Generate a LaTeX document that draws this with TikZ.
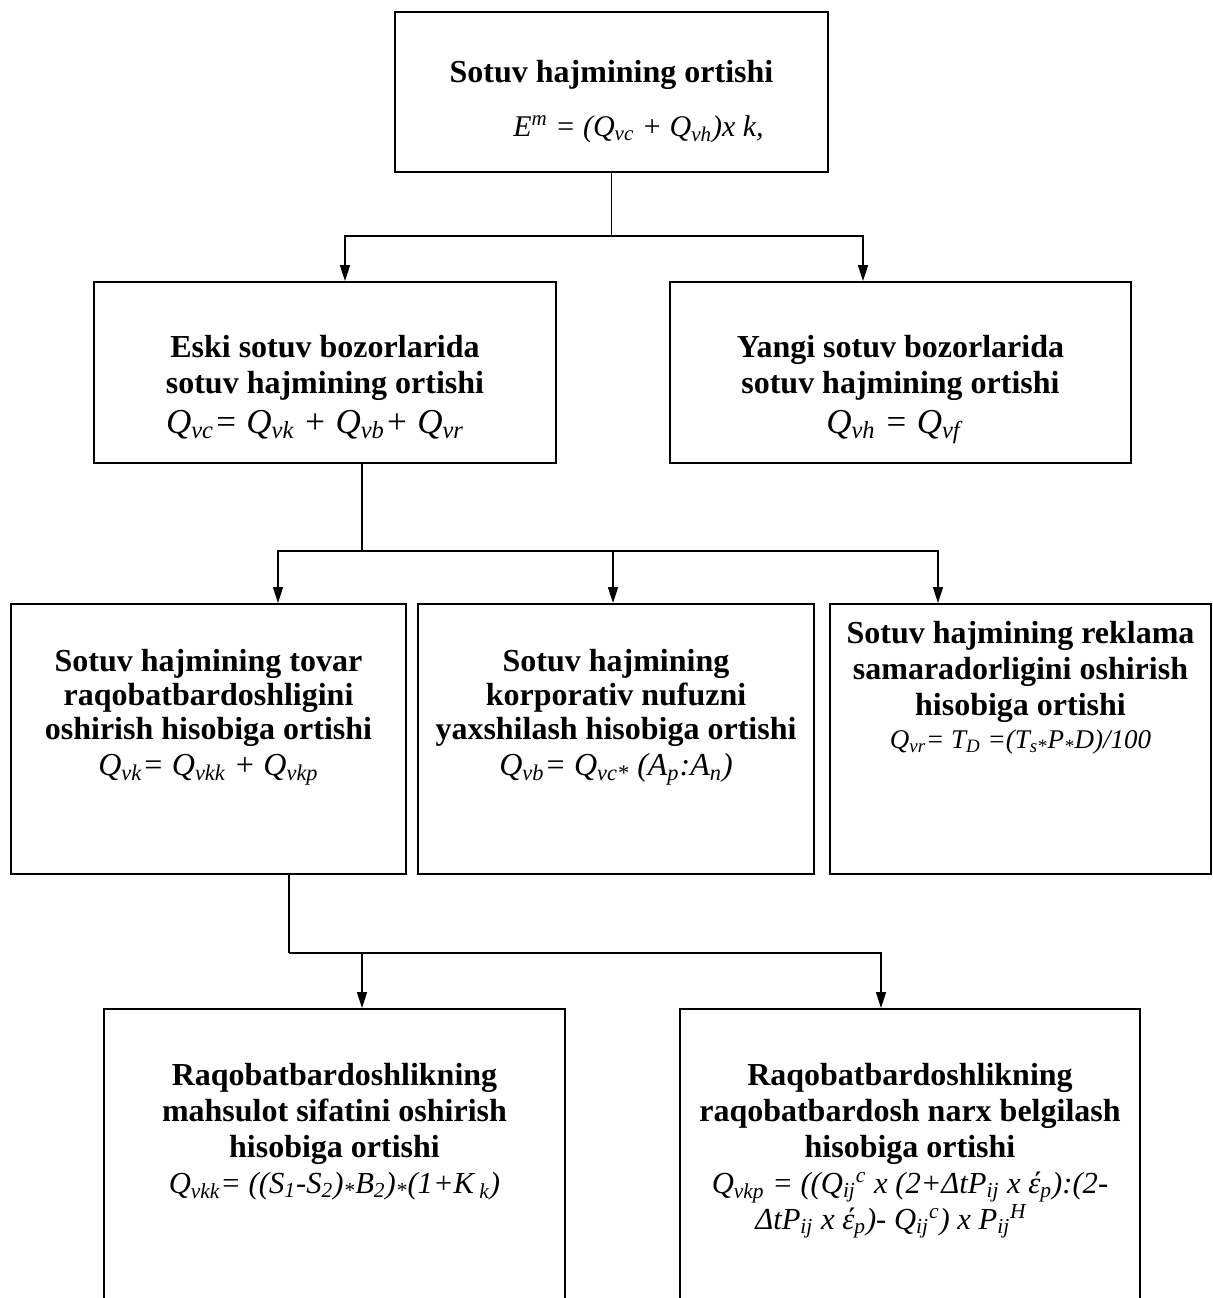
\documentclass[tikz,border=0pt]{standalone}
\usepackage{fontspec}
\setmainfont{Liberation Serif}
\usetikzlibrary{arrows.meta}
\newcommand\fst{\rule{0pt}{12pt}}
\newcommand\ijc{\textsubscript{ij}\textsuperscript{c}}
\newcommand\ijH{\textsubscript{ij}\textsuperscript{H}}
\begin{document}
\begin{tikzpicture}[x=0.5pt,y=-0.5pt,
  box/.style={draw, line width=1pt, inner sep=0pt},
  conn/.style={draw, line width=0.8pt},
  arr/.style={conn, -{Triangle[length=8pt,width=5pt]}},
  txt/.style={inner sep=0pt, anchor=north, align=center,
    font=\fontsize{16}{18}\selectfont\bfseries},
  tight/.style={font=\fontsize{16}{17}\selectfont\bfseries}]
\useasboundingbox (0,0) rectangle (1213,1298);
\clip (0,0) rectangle (1213,1298);
\fill[white] (0,0) rectangle (1213,1298);

% boxes
\node[box, minimum width=216.5pt, minimum height=80pt] (top) at (611.5,92) {};
\node[box, minimum width=231pt, minimum height=90.5pt] (eski) at (325,372.5) {};
\node[box, minimum width=230.5pt, minimum height=90.5pt] (yangi) at (900.5,372.5) {};
\node[box, minimum width=197.5pt, minimum height=135pt] (r3a) at (208.5,739) {};
\node[box, minimum width=198pt, minimum height=135pt] (r3b) at (616,739) {};
\node[box, minimum width=190.5pt, minimum height=135pt] (r3c) at (1020.5,739) {};
\node[box, minimum width=230.5pt, minimum height=155.5pt] (r4a) at (334.5,1164.5) {};
\node[box, minimum width=230pt, minimum height=155.5pt] (r4b) at (910,1164.5) {};

% texts
\node[txt] (ttop) at (611.5,58) {\fst Sotuv hajmining ortishi\\[9pt]
  \hspace*{27pt}{\mdseries\itshape\fontsize{15}{18}\selectfont E\textsuperscript{m} = (Q\textsubscript{vc} + Q\textsubscript{vh})x k,}};
\node[txt] (teski) at (325,333) {\fst Eski sotuv bozorlarida\\sotuv hajmining ortishi\\[2pt]
  {\mdseries\itshape\fontsize{17.5}{18}\selectfont Q\textsubscript{vc}= Q\textsubscript{vk} + Q\textsubscript{vb}+ Q\textsubscript{vr}\hspace*{10pt}\mbox{}}};
\node[txt] (tyangi) at (900.5,333) {\fst Yangi sotuv bozorlarida\\sotuv hajmining ortishi\\[2pt]
  {\mdseries\itshape\fontsize{17.5}{18}\selectfont Q\textsubscript{vh} = Q\textsubscript{vf}\hspace*{7pt}\mbox{}}};
\node[txt, tight] (tr3a) at (208.5,647) {\fst Sotuv hajmining tovar\\raqobatbardoshligini\\oshirish hisobiga ortishi\\[1pt]
  {\mdseries\itshape Q\textsubscript{vk}= Q\textsubscript{vkk} + Q\textsubscript{vkp}}};
\node[txt, tight] (tr3b) at (616,647) {\fst Sotuv hajmining\\korporativ nufuzni\\yaxshilash hisobiga ortishi\\[1pt]
  {\mdseries\itshape Q\textsubscript{vb}= Q\textsubscript{vc*} (A\textsubscript{p}:A\textsubscript{n})}};
\node[txt] (tr3c) at (1020.5,619) {\fst Sotuv hajmining reklama\\samaradorligini oshirish\\hisobiga ortishi\\[-1.5pt]
  {\mdseries\itshape\fontsize{13.5}{18}\selectfont Q\textsubscript{vr}= T\textsubscript{D} =(T\textsubscript{s*}P\textsubscript{*}D)/100}};
\node[txt] (tr4a) at (334.5,1061) {\fst Raqobatbardoshlikning\\mahsulot sifatini oshirish\\hisobiga ortishi\\
  {\mdseries\itshape\fontsize{15.3}{18}\selectfont Q\textsubscript{vkk}= ((S\textsubscript{1}-S\textsubscript{2})\textsubscript{*}B\textsubscript{2})\textsubscript{*}(1+K\textsubscript{ k})}};
\node[txt] (tr4b) at (910,1061) {\fst Raqobatbardoshlikning\\raqobatbardosh narx belgilash\\hisobiga ortishi\\
  {\mdseries\itshape\fontsize{15.3}{18}\selectfont Q\textsubscript{vkp} = ((Q\ijc{} x (2+ΔtP\textsubscript{ij} x έ\textsubscript{p}):(2-}\\
  {\mdseries\itshape\fontsize{15.3}{18}\selectfont ΔtP\textsubscript{ij} x έ\textsubscript{p})- Q\ijc{}) x P\ijH\hspace*{19pt}\mbox{}}};

% connectors: level 1
\coordinate (h1) at (611.5,236);
\coordinate (ea) at (345,0);
\coordinate (ya) at (863,0);
\draw[conn] (top.south) -- (h1);
\draw[arr] (h1) -| (ea |- eski.north);
\draw[arr] (h1) -| (ya |- yangi.north);

% level 2
\coordinate (h2) at (362,551);
\coordinate (ra) at (278,0);
\coordinate (rb) at (613,0);
\coordinate (rc) at (938,0);
\draw[conn] (eski.south -| h2) -- (h2);
\draw[arr] (h2) -| (ra |- r3a.north);
\draw[arr] (h2) -| (rc |- r3c.north);
\draw[arr] (rb |- h2) -- (rb |- r3b.north);

% level 3
\coordinate (h3) at (289,953);
\coordinate (qa) at (362,0);
\coordinate (qb) at (881,0);
\draw[conn] (r3a.south -| h3) -- (h3);
\draw[arr] (h3) -| (qb |- r4b.north);
\draw[arr] (qa |- h3) -- (qa |- r4a.north);
\end{tikzpicture}
\end{document}
